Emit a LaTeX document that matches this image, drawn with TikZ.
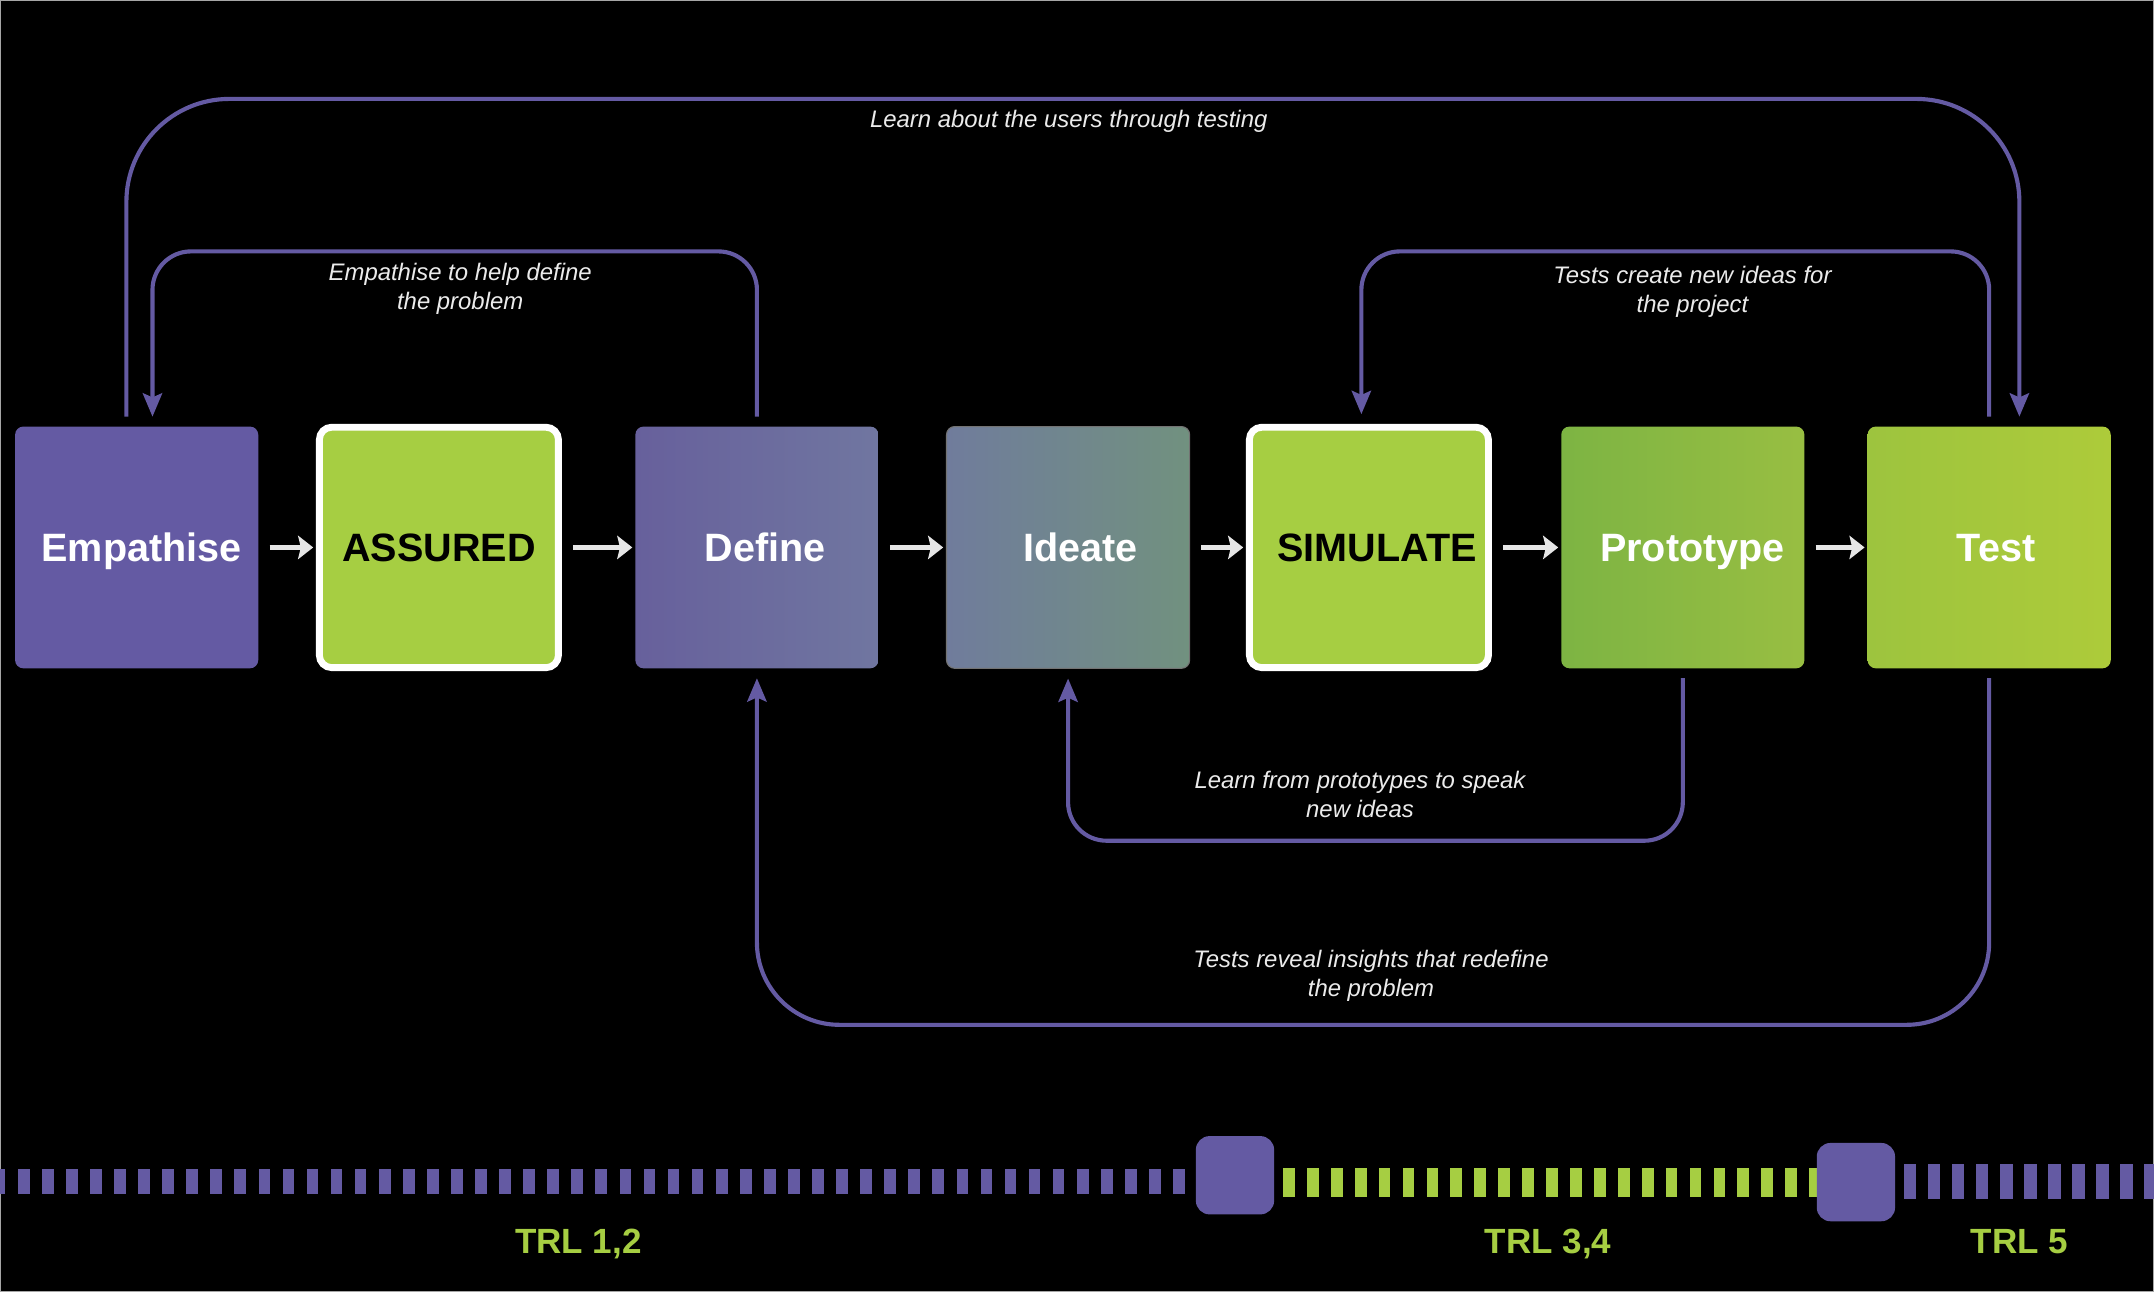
\documentclass[tikz,border=0pt]{standalone}
\usepackage{fontspec}
\setmainfont{Liberation Sans}
\usetikzlibrary{arrows.meta,positioning}
\definecolor{dtpurple}{RGB}{100,90,163}
\definecolor{dtgreen}{RGB}{166,206,66}
\definecolor{dtarrow}{RGB}{230,230,230}
\definecolor{dttext}{RGB}{235,235,235}
\definecolor{defl}{RGB}{103,96,156}
\definecolor{defr}{RGB}{112,118,160}
\definecolor{idel}{RGB}{112,124,156}
\definecolor{ider}{RGB}{113,145,127}
\definecolor{prol}{RGB}{125,180,67}
\definecolor{pror}{RGB}{152,190,66}
\definecolor{tstl}{RGB}{157,196,62}
\definecolor{tstr}{RGB}{173,203,58}
\tikzset{
	stagebox/.style={minimum width=177pt, minimum height=176pt, rounded corners=6pt, inner sep=0pt, text height=20.5pt, text depth=0pt, font=\fontsize{28.8}{30}\selectfont\bfseries, text=white},
	markbox/.style={stagebox, draw=white, line width=5pt, fill=dtgreen, text=black, minimum width=174pt, minimum height=175pt, rounded corners=9pt},
	flowarrow/.style={draw=dtarrow, line width=3.5pt, -{Stealth[length=11pt,width=17pt,inset=2pt]}, shorten <=8pt, shorten >=2pt},
	loopline/.style={draw=dtpurple, line width=3pt, shorten <=7pt, shorten >=7pt, -{Stealth[length=17pt,width=14pt,inset=3pt]}},
	looplabel/.style={text=dttext, font=\fontsize{17.4}{21}\selectfont\itshape, align=center, inner sep=0pt},
	trlstop/.style={fill=dtpurple, minimum width=57pt, minimum height=57pt, rounded corners=10pt, inner sep=0pt},
	trllabel/.style={text=dtgreen, font=\fontsize{25.5}{26}\selectfont\bfseries, text height=18.3pt, text depth=0pt, inner sep=0pt}
}
\begin{document}
\begin{tikzpicture}[x=1pt, y=-1pt]
	\fill[black] (0,0) rectangle (1568,940.5);
	\draw[gray!70, line width=1pt] (0.5,0.5) rectangle (1567.5,940);
	\useasboundingbox (0,0) rectangle (1568,940.5);
	
	\node[stagebox, fill=dtpurple] (emp) at (99.5,398.5) {\hspace{7pt}Empathise};
	\node[markbox] (ass) at (319.5,398.5) {ASSURED};
	\node[stagebox, left color=defl, right color=defr] (def) at (551,398.5) {\hspace{12pt}Define};
	\node[stagebox, left color=idel, right color=ider, draw=black!55, line width=0.8pt] (ide) at (777.5,398.5) {\hspace{18pt}Ideate};
	\node[markbox] (sim) at (996.5,398.5) {\hspace{12pt}SIMULATE};
	\node[stagebox, left color=prol, right color=pror] (pro) at (1225,398.5) {\hspace{14pt}Prototype};
	\node[stagebox, left color=tstl, right color=tstr] (tst) at (1448,398.5) {\hspace{10pt}Test};
	
	\draw[flowarrow] (emp) -- (ass);
	\draw[flowarrow] (ass) -- (def);
	\draw[flowarrow] (def) -- (ide);
	\draw[flowarrow] (ide) -- (sim);
	\draw[flowarrow] (sim) -- (pro);
	\draw[flowarrow] (pro) -- (tst);
	
	\coordinate (topA) at (780,72);
	\coordinate (topB) at (330,183);
	\coordinate (topC) at (1220,183);
	\coordinate (botA) at (1000,612);
	\coordinate (botB) at (1000,746);
	
	\draw[loopline, rounded corners=75pt] ([xshift=-7.5pt]emp.north) |- (topA) -| ([xshift=22pt]tst.north);
	\draw[loopline, rounded corners=28pt] (def.north) |- (topB) -| ([xshift=11.5pt]emp.north);
	\draw[loopline, rounded corners=28pt] (tst.north) |- (topC) -| ([xshift=-5.5pt]sim.north);
	\draw[loopline, rounded corners=28pt] (pro.south) |- (botA) -| (ide.south);
	\draw[loopline, rounded corners=60pt] (tst.south) |- (botB) -| (def.south);
	
	\node[looplabel] (usrtxt) at (778,88) {Learn about the users through testing};
	\node[looplabel] (emptxt) at (335,210.5) {Empathise to help define\\the problem};
	\node[looplabel] (tsttxt) at (1232,212.5) {Tests create new ideas for\\the project};
	\node[looplabel] (protxt) at (990,578.5) {Learn from prototypes to speak\\new ideas};
	\node[looplabel] (deftxt) at (998,710.5) {Tests reveal insights that redefine\\the problem};
	
	\begin{scope}
		\clip (0,0) rectangle (1568,940.5);
		\foreach \k in {-1,...,48}
			\fill[dtpurple] ({13+17.52*\k},851) rectangle ++(8.5,18);
		\foreach \k in {0,...,22}
			\fill[dtgreen] ({934+17.41*\k},850) rectangle ++(8.5,21);
		\foreach \k in {0,...,10}
			\fill[dtpurple] ({1386+17.5*\k},847) rectangle ++(9,26);
	\end{scope}
	\node[trlstop] (stopA) at (899,855.5) {};
	\node[trlstop] (stopB) at (1351,860.5) {};
	
	\node[trllabel] (trlA) at (421,903) {TRL 1,2};
	\node[trllabel] (trlB) at (1127,903) {TRL 3,4};
	\node[trllabel] (trlC) at (1470,903) {TRL 5};
\end{tikzpicture}
\end{document}
